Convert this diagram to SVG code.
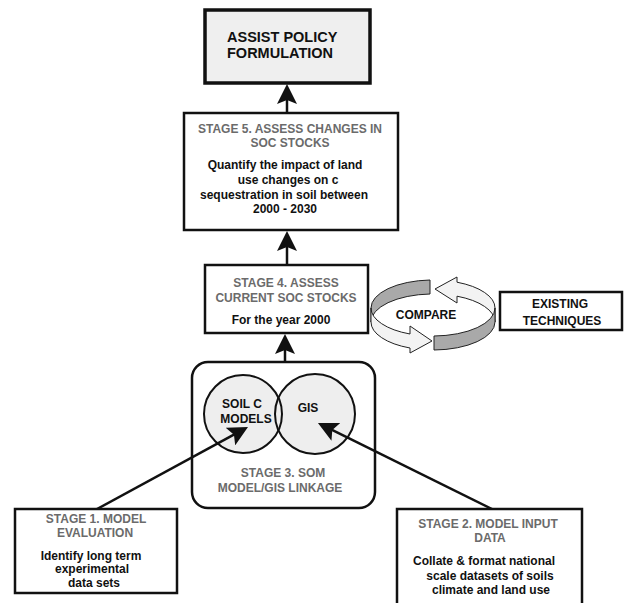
<svg xmlns="http://www.w3.org/2000/svg" width="628" height="603" viewBox="0 0 628 603">
<style>
text{font-family:"Liberation Sans",Arial,sans-serif;font-weight:bold;font-size:12px;fill:#111}
.g{fill:#6b6b6b}
.c{text-anchor:middle}
.box{fill:#fff;stroke:#111;stroke-width:2.5}
.con{stroke:#111;stroke-width:2.5;fill:none;marker-end:url(#ah)}
.rib{stroke:#222;stroke-width:1}
</style>
<defs>
<marker id="ah" markerUnits="userSpaceOnUse" markerWidth="20" markerHeight="20" viewBox="0 0 20 20" refX="6" refY="10" orient="auto">
<path d="M0,0 L20,10 L0,20 L4,10 Z" fill="#111"/>
</marker>
</defs>
<rect width="628" height="603" fill="#fff"/>

<g id="policy">
<rect x="205" y="10" width="165" height="73" fill="#efefef" stroke="#111" stroke-width="3.5"/>
<text x="227" y="42" style="font-size:14.5px">ASSIST POLICY</text>
<text x="227" y="58" style="font-size:14.5px">FORMULATION</text>
</g>

<g id="stage5">
<rect class="box" x="184" y="113" width="214" height="117"/>
<text class="g c" x="290" y="133">STAGE 5. ASSESS CHANGES IN</text>
<text class="g c" x="290" y="147">SOC STOCKS</text>
<text class="c" x="285" y="169">Quantify the impact of land</text>
<text class="c" x="288" y="184">use changes on c</text>
<text class="c" x="284" y="199">sequestration in soil between</text>
<text class="c" x="285" y="213">2000 - 2030</text>
</g>

<g id="stage4">
<rect class="box" x="205" y="265" width="163" height="68"/>
<text class="g c" x="286" y="287">STAGE 4. ASSESS</text>
<text class="g c" x="286" y="302">CURRENT SOC STOCKS</text>
<text class="c" x="281" y="324">For the year 2000</text>
</g>

<g id="compare">
<path class="rib" fill="#a9a9a9" d="M430,280 A62,28 0 0 0 371,308 L371,322 A62,28 0 0 1 430,294 Z"/>
<path class="rib" fill="#f3f3f3" d="M495,308 A62,28 0 0 0 457,282.2 L457,277 L435,289 L457,303 L457,296.2 A62,28 0 0 1 495,322 Z"/>
<path class="rib" fill="#f3f3f3" d="M371,308 A62,28 0 0 0 410,334 L410,326 L432,341 L410,353 L410,348 A62,28 0 0 1 371,322 Z"/>
<path class="rib" fill="#a9a9a9" d="M434,336 A62,28 0 0 0 495,308 L495,322 A62,28 0 0 1 434,350 Z"/>
<text class="c" x="426" y="319">COMPARE</text>
</g>

<g id="existing">
<rect class="box" x="500" y="292" width="122" height="38"/>
<text class="c" x="560" y="308">EXISTING</text>
<text class="c" x="562" y="325">TECHNIQUES</text>
</g>

<g id="stage3">
<rect class="box" x="192" y="362" width="183" height="146" rx="16"/>
<circle cx="243" cy="414" r="39" fill="#eeeeee"/>
<circle cx="315" cy="414" r="40" fill="#eeeeee"/>
<circle cx="243" cy="414" r="39" fill="none" stroke="#111" stroke-width="2"/>
<circle cx="315" cy="414" r="40" fill="none" stroke="#111" stroke-width="2"/>
<text class="c" x="242" y="408">SOIL C</text>
<text class="c" x="246" y="423">MODELS</text>
<text class="c" x="308" y="412">GIS</text>
<text class="g c" x="283" y="477">STAGE 3. SOM</text>
<text class="g c" x="280" y="492">MODEL/GIS LINKAGE</text>
</g>

<g id="stage1">
<rect class="box" x="15" y="509" width="162" height="84"/>
<text class="g c" x="96" y="523">STAGE 1. MODEL</text>
<text class="g c" x="95" y="537">EVALUATION</text>
<text class="c" x="91" y="560">Identify long term</text>
<text class="c" x="92" y="573">experimental</text>
<text class="c" x="94" y="587">data sets</text>
</g>

<g id="stage2">
<rect class="box" x="397" y="509" width="185" height="110"/>
<text class="g c" x="488" y="528">STAGE 2. MODEL INPUT</text>
<text class="g c" x="490" y="542">DATA</text>
<text class="c" x="484" y="565">Collate &amp; format national</text>
<text class="c" x="490" y="580">scale datasets of soils</text>
<text class="c" x="491" y="594">climate and land use</text>
</g>

<g id="connectors">
<line class="con" x1="287" y1="113" x2="287" y2="98"/>
<line class="con" x1="287" y1="265" x2="287" y2="245"/>
<line class="con" x1="285" y1="362" x2="285" y2="348"/>
<line class="con" x1="97" y1="509" x2="235.7" y2="433.7"/>
<line class="con" x1="492" y1="509" x2="330.5" y2="429.2"/>
</g>
</svg>
